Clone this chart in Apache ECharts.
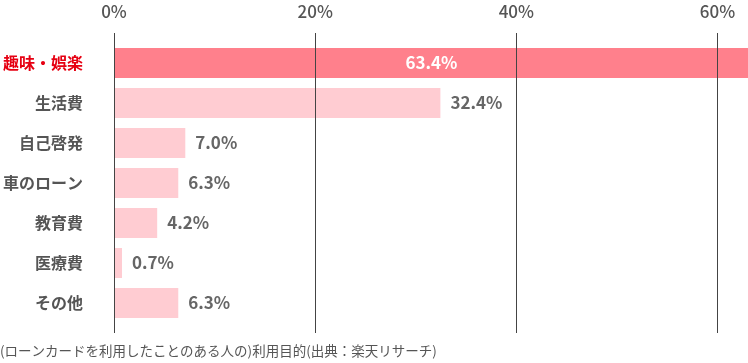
<!DOCTYPE html>
<html><head><meta charset="utf-8">
<script src="https://cdn.jsdelivr.net/npm/echarts@6/dist/echarts.min.js"></script>
<style>html,body{margin:0;padding:0;background:#fff}#c{width:748px;height:363px}</style>
</head><body><div id="c"></div>
<script>
const categories = ['趣味・娯楽', '生活費', '自己啓発', '車のローン', '教育費', '医療費', 'その他'];
const values = [63.4, 32.4, 7.0, 6.3, 4.2, 0.7, 6.3];
const tickLabels = ['0%', '20%', '40%', '60%'];
const footnote = '(ローンカードを利用したことのある人の)利用目的(出典：楽天リサーチ)';

const FONT = '"Noto Sans CJK JP", "Noto Sans", sans-serif';
const XMAX = 63.03;
const chart = echarts.init(document.getElementById('c'));
chart.setOption({
  animation: false,
  grid: [
    {left: 114, right: 0, top: 33, height: 300},
    {left: 114, right: 0, top: 43, height: 280}
  ],
  xAxis: [
    {gridIndex: 0, type: 'value', position: 'top', min: 0, max: XMAX, interval: 20, z: 5,
     axisLine: {show: false}, axisTick: {show: false},
     axisLabel: {margin: 13, showMaxLabel: false, color: '#555', fontSize: 17, fontWeight: 500, fontFamily: FONT,
       formatter: v => tickLabels[Math.round(v / 20)] || ''},
     splitLine: {show: true, lineStyle: {color: '#444', width: 1}}},
    {gridIndex: 1, type: 'value', min: 0, max: XMAX, show: false}
  ],
  yAxis: [
    {gridIndex: 0, type: 'category', data: [''], show: false},
    {gridIndex: 1, type: 'category', inverse: true,
     data: categories.map((c, i) => i === 0 ? {value: c, textStyle: {color: '#e60012'}} : c),
     axisLine: {show: false}, axisTick: {show: false},
     axisLabel: {margin: 32, color: '#555', fontSize: 16, fontWeight: 'bold', fontFamily: FONT}}
  ],
  series: [{
    type: 'bar', xAxisIndex: 1, yAxisIndex: 1, barWidth: 30,
    data: values.map((v, i) => ({
      value: v,
      itemStyle: {color: i === 0 ? '#ff808c' : '#ffccd2'},
      label: i === 0 ? {position: 'inside', color: '#fff'} : {position: 'right', color: '#666'}
    })),
    label: {show: true, distance: 10, fontSize: 17, fontWeight: 'bold', fontFamily: FONT,
      formatter: p => p.value.toFixed(1) + '%'}
  }],
  graphic: [{type: 'text', left: 0, top: 344,
    style: {text: footnote, fill: '#555', fontSize: 13.5, fontFamily: FONT}}]
});
</script></body></html>
